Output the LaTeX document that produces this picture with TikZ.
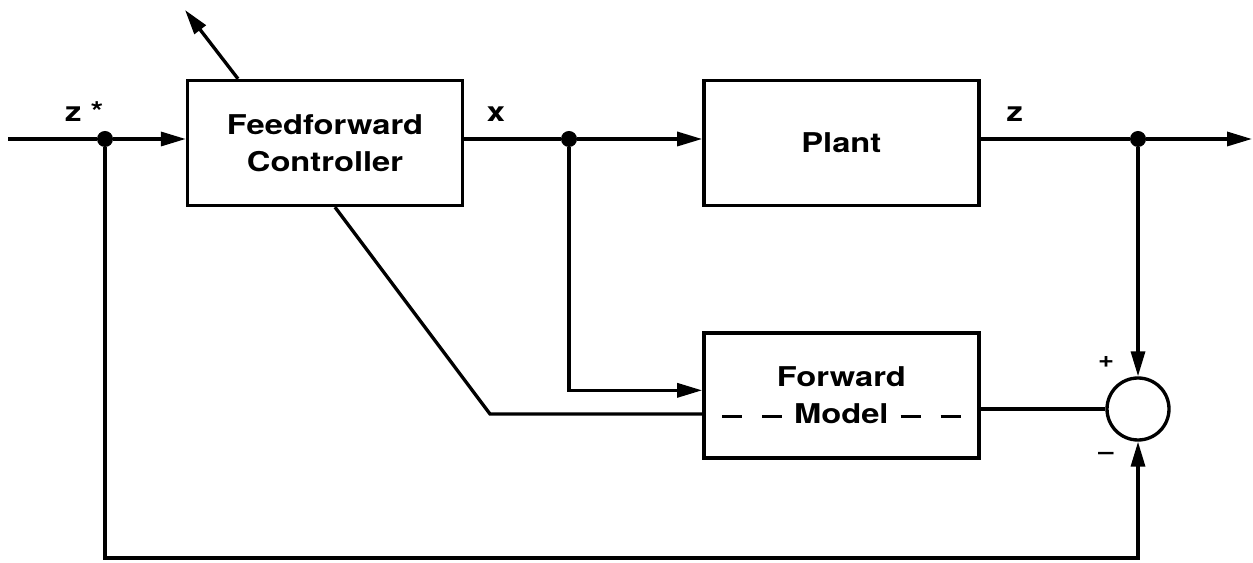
\documentclass[tikz,border=0pt]{standalone}
\usepackage{fontspec}
\setmainfont{TeX Gyre Heros}[FakeStretch=1.2]
\usetikzlibrary{positioning, calc, arrows.meta}

\begin{document}
\begin{tikzpicture}[
    block/.style={rectangle, draw, line width=1.9pt, minimum width=5.5cm, minimum height=2.5cm, align=center, font=\fontsize{15.5}{21}\selectfont\bfseries},
    line/.style={draw, line width=1.9pt},
    arrow/.style={line, -{Triangle[length=5mm,width=2.8mm]}},
    dot/.style={circle, fill, inner sep=0pt, minimum size=3.2mm},
    sum/.style={circle, draw, line width=1.9pt, minimum size=1.24cm, inner sep=0pt},
    lbl/.style={font=\fontsize{15.5}{18}\selectfont\bfseries},
    sgn/.style={font=\fontsize{13}{15}\selectfont\bfseries}
]
\useasboundingbox (0,0) rectangle (25.06,11.26);

% Nodes
\node[block] (ffc) at (6.5,8.40) {Feedforward\\Controller};
\node[block, right=4.76cm of ffc] (plant) {Plant};
\node[block, below=2.48cm of plant] (fm) {Forward\\Model};
\node[sum] (sum) at (22.76,3.08) {};

% Junctions and free ends
\coordinate (in) at (0.16,8.48);
\coordinate (out) at (25.04,8.48);
\node[dot] (jin) at (2.1,8.48) {};
\node[dot] (jx) at (11.38,8.48) {};
\node[dot] (jz) at (22.76,8.48) {};
\coordinate (bend) at (9.8,2.98);
\coordinate (base) at (0,0.1);
\coordinate (adapt) at (3.7,11.06);

% Paths
\path[line] (in) -- node[lbl, above=2mm, pos=0.86] (zstar) {z\,\,*} (jin);
\path[arrow] (jin) -- (jin -| ffc.west);
\path[line] (jx -| ffc.east) -- node[lbl, above=2mm, pos=0.33] (xlbl) {x} (jx);
\path[arrow] (jx) -- (jx -| plant.west);
\path[line] (jz -| plant.east) -- node[lbl, above=2mm, pos=0.23] (zlbl) {z} (jz);
\path[arrow] (jz) -- (out);
\path[arrow] (jz) -- (sum);
\path[arrow] (jx) |- ([yshift=1mm]fm.west);
\path[line] ([xshift=2mm]ffc.south) -- (bend) -- (bend -| fm.west);
\path[line] (fm.east |- sum) -- (sum);
\path[arrow] (jin) -- (jin |- base) -| (sum.south);
\path[arrow] ([xshift=-17.4mm]ffc.north) -- (adapt);

% Signs and dashes
\node[sgn] (plus) at ($(sum)+(-0.64,0.94)$) {+};
\node[sgn] (minus) at ($(sum)+(-0.64,-0.94)$) {–};
\draw[line width=1.6pt, dash pattern=on 0.4cm off 0.4cm] ($(fm.west)+(0.4,-0.42)$) -- ++(1.2,0);
\draw[line width=1.6pt, dash pattern=on 0.4cm off 0.4cm] ($(fm.east)+(-1.6,-0.42)$) -- ++(1.2,0);

\end{tikzpicture}
\end{document}
